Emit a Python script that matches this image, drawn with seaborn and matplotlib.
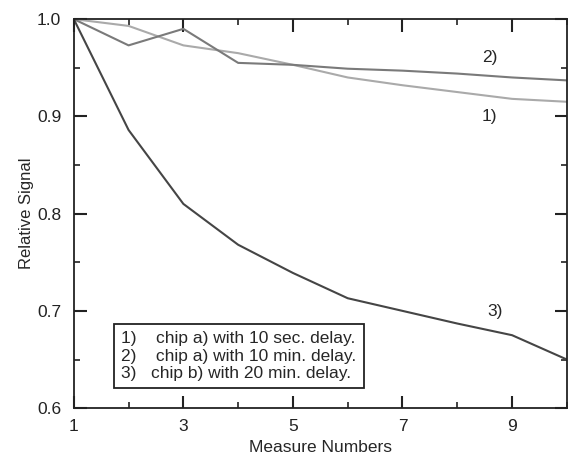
import numpy as np
import pandas as pd
import matplotlib
matplotlib.use("Agg")
import matplotlib.pyplot as plt
import seaborn as sns
from matplotlib.ticker import MultipleLocator

measure = [1, 2, 3, 4, 5, 6, 7, 8, 9, 10]
sig_10sec = [1.0, 0.993, 0.973, 0.965, 0.953, 0.940, 0.932, 0.925, 0.918, 0.915]
sig_10min = [1.0, 0.973, 0.990, 0.955, 0.953, 0.949, 0.947, 0.944, 0.940, 0.937]
sig_20min = [1.0, 0.886, 0.810, 0.768, 0.739, 0.713, 0.700, 0.687, 0.675, 0.650]

labels = ["1)", "2)", "3)"]
legend_lines = [
    "1)    chip a) with 10 sec. delay.",
    "2)    chip a) with 10 min. delay.",
    "3)   chip b) with 20 min. delay.",
]

df = pd.DataFrame({
    "Measure Numbers": measure * 3,
    "Relative Signal": sig_10sec + sig_10min + sig_20min,
    "series": [labels[0]] * 10 + [labels[1]] * 10 + [labels[2]] * 10,
})

sns.set_style("ticks")
plt.rcParams["font.family"] = ["Liberation Sans", "DejaVu Sans"]

fig = plt.figure(figsize=(5.72, 4.55), dpi=100)
ax = fig.add_axes([0.129, 0.103, 0.862, 0.855])

palette = {"1)": "#aaaaaa", "2)": "#7a7a7a", "3)": "#454545"}
sns.lineplot(data=df, x="Measure Numbers", y="Relative Signal", hue="series",
             palette=palette, linewidth=1.5, legend=False, ax=ax)

ax.set_xlim(1, 10)
ax.set_ylim(0.6, 1.0)
ax.xaxis.set_minor_locator(MultipleLocator(1))
ax.set_xticks([1, 3, 5, 7, 9])
ax.yaxis.set_major_locator(MultipleLocator(0.1))
ax.yaxis.set_minor_locator(MultipleLocator(0.05))
ax.set_yticklabels([f"{v:.1f}" for v in ax.get_yticks()])
ax.tick_params(which="both", direction="in", top=True, right=True, labelsize=12.5, colors="#222222")
ax.tick_params(which="major", length=9, width=1.5)
ax.tick_params(which="minor", length=4, width=1.2)
ax.tick_params(axis="x", which="major", pad=8)
ax.tick_params(axis="y", which="major", pad=9)
for sp in ax.spines.values():
    sp.set_linewidth(1.3)
    sp.set_color("#222222")

ax.set_xlabel("Measure Numbers", fontsize=12.5, labelpad=4)
ax.set_ylabel("Relative Signal", fontsize=12, labelpad=2)

ax.text(8.45, 0.956, "2)", fontsize=12.5)
ax.text(8.45, 0.895, "1)", fontsize=12.5)
ax.text(8.55, 0.695, "3)", fontsize=12.5)

ax.text(1.87, 0.631, "\n".join(legend_lines), fontsize=12.5, linespacing=1.2,
        bbox=dict(boxstyle="square,pad=0.42", facecolor="white", edgecolor="#222222", linewidth=1.3))

fig.savefig("out.png", dpi=100)
